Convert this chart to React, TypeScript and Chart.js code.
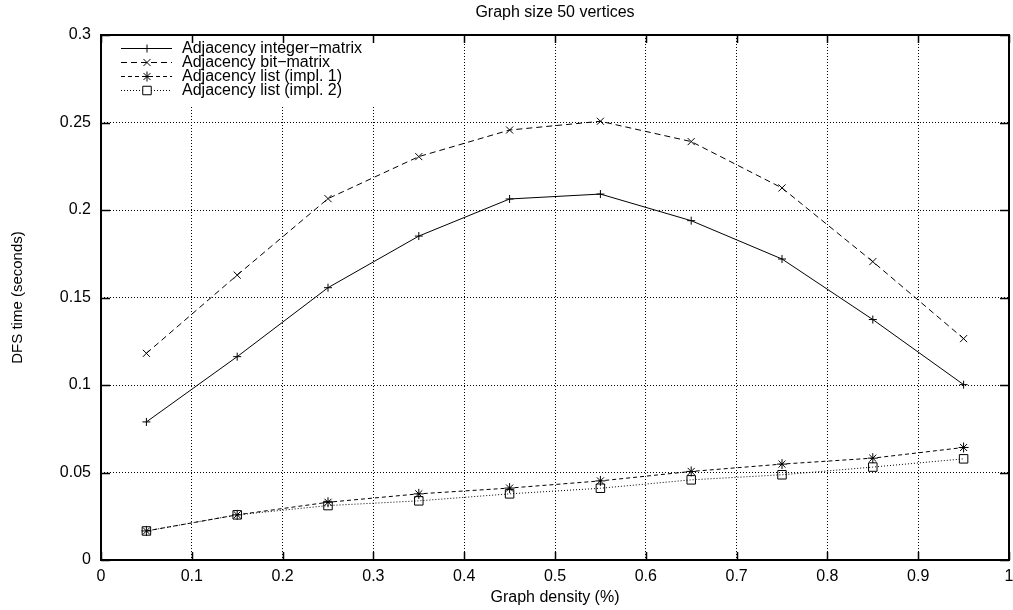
import React, { useEffect, useRef } from "react";
import { Chart, registerables } from "chart.js";
import { drawPoint } from "chart.js/helpers";

Chart.register(...registerables);

const titleText = "Graph size 50 vertices";
const xAxisTitle = "Graph density (%)";
const yAxisTitle = "DFS time (seconds)";

const density = [0.05, 0.15, 0.25, 0.35, 0.45, 0.55, 0.65, 0.75, 0.85, 0.95];
const integerMatrix = [0.0789, 0.1162, 0.1556, 0.1851, 0.2063, 0.2091, 0.1939, 0.172, 0.1374, 0.1002];
const bitMatrix = [0.1181, 0.1628, 0.2065, 0.2305, 0.2457, 0.2507, 0.2391, 0.2126, 0.1705, 0.1265];
const listImpl1 = [0.0166, 0.0258, 0.033, 0.0378, 0.0411, 0.0452, 0.0506, 0.0548, 0.0582, 0.0643];
const listImpl2 = [0.0166, 0.0258, 0.0311, 0.0338, 0.0378, 0.041, 0.0458, 0.0487, 0.0531, 0.0578];

const xTickLabels = ["0", "0.1", "0.2", "0.3", "0.4", "0.5", "0.6", "0.7", "0.8", "0.9", "1"];
const yTickLabels = ["0", "0.05", "0.1", "0.15", "0.2", "0.25", "0.3"];

const seriesNames = [
  "Adjacency integer\u2212matrix",
  "Adjacency bit\u2212matrix",
  "Adjacency list (impl. 1)",
  "Adjacency list (impl. 2)",
];
const seriesValues = [integerMatrix, bitMatrix, listImpl1, listImpl2];
const seriesDash = [[], [6, 4], [4, 3], [1, 2]];
const seriesPoint = ["cross", "crossRot", "star", "rect"];
const seriesRadius = [4, 5, 5, 6];

const FONT = "'Liberation Sans', Arial, Helvetica, sans-serif";

const framePlugin = {
  id: "gnuplotFrame",
  afterDraw(chart: any) {
    const ctx = chart.ctx;
    const { left, right, top, bottom } = chart.chartArea;
    const xs = chart.scales.x;
    const ys = chart.scales.y;
    ctx.save();

    // key background (hides grid)
    ctx.fillStyle = "#fff";
    ctx.fillRect(left + 1, top + 1, 284, 70);

    // border
    ctx.setLineDash([]);
    ctx.strokeStyle = "#000";
    ctx.lineWidth = 2;
    ctx.strokeRect(left, top, right - left, bottom - top);

    // inward ticks on all sides
    ctx.lineWidth = 1.5;
    ctx.beginPath();
    xs.ticks.forEach((t: any) => {
      const px = Math.round(xs.getPixelForValue(t.value)) + 0.5;
      ctx.moveTo(px, bottom);
      ctx.lineTo(px, bottom - 8);
      ctx.moveTo(px, top);
      ctx.lineTo(px, top + 8);
    });
    ys.ticks.forEach((t: any) => {
      const py = Math.round(ys.getPixelForValue(t.value)) + 0.5;
      ctx.moveTo(left, py);
      ctx.lineTo(left + 9, py);
      ctx.moveTo(right, py);
      ctx.lineTo(right - 9, py);
    });
    ctx.stroke();

    // key entries
    ctx.font = "16px " + FONT;
    ctx.textBaseline = "middle";
    ctx.textAlign = "left";
    seriesNames.forEach((name, i) => {
      const y = top + 13 + i * 14;
      ctx.strokeStyle = "#000";
      ctx.lineWidth = 1;
      ctx.setLineDash(seriesDash[i]);
      ctx.beginPath();
      ctx.moveTo(left + 20, y + 0.5);
      ctx.lineTo(left + 71, y + 0.5);
      ctx.stroke();
      ctx.setLineDash([]);
      ctx.fillStyle = seriesPoint[i] === "rect" ? "#fff" : "#000";
      drawPoint(
        ctx,
        { pointStyle: seriesPoint[i], radius: seriesRadius[i], rotation: 0, borderWidth: 1 } as any,
        left + 46,
        y + 0.5
      );
      ctx.fillStyle = "#000";
      ctx.fillText(name, left + 81, y + 1);
    });

    // titles
    ctx.fillStyle = "#000";
    ctx.textAlign = "center";
    ctx.textBaseline = "middle";
    ctx.font = "16px " + FONT;
    ctx.fillText(titleText, (left + right) / 2, 13);
    ctx.fillText(xAxisTitle, (left + right) / 2, 598);
    ctx.save();
    ctx.translate(18, (top + bottom) / 2);
    ctx.rotate(-Math.PI / 2);
    ctx.font = "15px " + FONT;
    ctx.fillText(yAxisTitle, 0, 0);
    ctx.restore();

    ctx.restore();
  },
};

export default function App() {
  const canvasRef = useRef<HTMLCanvasElement | null>(null);

  useEffect(() => {
    if (!canvasRef.current) return;
    Chart.defaults.font.family = FONT;
    Chart.defaults.color = "#000";
    const datasets = seriesNames.map((name, i) => ({
      label: name,
      data: density.map((d, j) => ({ x: d, y: seriesValues[i][j] })),
      borderColor: "#000",
      borderWidth: 1,
      borderDash: seriesDash[i],
      backgroundColor: "rgba(0,0,0,0)",
      pointStyle: seriesPoint[i],
      pointRadius: seriesRadius[i],
      pointBorderColor: "#000",
      pointBackgroundColor: "rgba(0,0,0,0)",
      pointBorderWidth: 1,
      tension: 0,
      fill: false,
    }));
    const chart = new Chart(canvasRef.current, {
      type: "line",
      data: { datasets },
      options: {
        animation: false,
        responsive: true,
        maintainAspectRatio: false,
        layout: { autoPadding: false, padding: { top: 35, right: 4, left: 0, bottom: 0 } },
        plugins: {
          legend: { display: false },
          title: { display: false },
          tooltip: { enabled: false },
        },
        scales: {
          x: {
            type: "linear",
            min: 0,
            max: 1,
            ticks: {
              stepSize: 0.1,
              padding: 7,
              font: { size: 16, family: FONT },
              color: "#000",
              maxRotation: 0,
              autoSkip: false,
              callback: (_v: any, i: number) => xTickLabels[i],
            },
            grid: { color: "#000", lineWidth: 1, drawTicks: false },
            border: { display: false, dash: [1, 2] },
            afterFit: (s: any) => {
              s.height = 50;
              s.paddingLeft = 0;
              s.paddingRight = 0;
            },
          },
          y: {
            type: "linear",
            min: 0,
            max: 0.3,
            ticks: {
              stepSize: 0.05,
              padding: 10,
              font: { size: 16, family: FONT },
              color: "#000",
              autoSkip: false,
              callback: (_v: any, i: number) => yTickLabels[i],
            },
            grid: { color: "#000", lineWidth: 1, drawTicks: false },
            border: { display: false, dash: [1, 2] },
            afterFit: (s: any) => {
              s.width = 101;
              s.paddingTop = 0;
              s.paddingBottom = 0;
            },
          },
        },
      },
      plugins: [framePlugin],
    } as any);
    return () => chart.destroy();
  }, []);

  return (
    <div style={{ position: "absolute", left: 0, top: 0, width: 1013, height: 610, background: "#fff" }}>
      <canvas ref={canvasRef} />
    </div>
  );
}
